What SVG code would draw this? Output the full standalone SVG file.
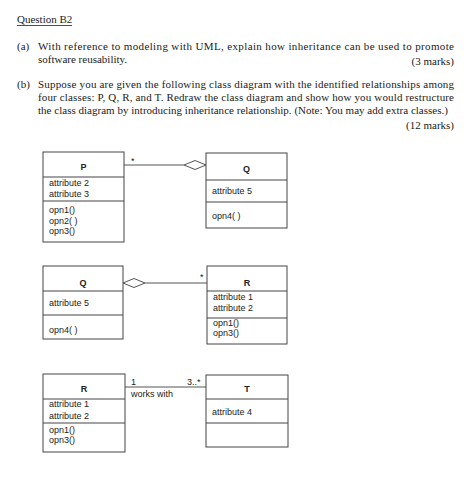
<svg xmlns="http://www.w3.org/2000/svg" width="474" height="484" viewBox="0 0 474 484">
<style>
.q{font-family:"Liberation Serif","Times New Roman",serif;font-size:11px;fill:#222}
.box{fill:#fff;stroke:#444;stroke-width:1}
.div{stroke:#444;stroke-width:1}
.t{font-family:"Liberation Sans",Arial,sans-serif;font-size:9px;fill:#222}
.n{font-family:"Liberation Sans",Arial,sans-serif;font-size:9px;font-weight:bold;fill:#222;text-anchor:middle}
.ln{stroke:#555;stroke-width:1;fill:none}
.dia{stroke:#555;stroke-width:1;fill:#fff}
</style>
<rect width="474" height="484" fill="#fff"/>
<g id="question">
<text class="q" x="17" y="23">Question B2</text>
<line x1="17" y1="25.5" x2="72" y2="25.5" stroke="#222" stroke-width="0.8"/>
<text class="q" x="17" y="50">(a)</text>
<text class="q" x="38" y="50" textLength="416" lengthAdjust="spacing">With reference to modeling with UML, explain how inheritance can be used to promote</text>
<text class="q" x="38" y="63">software reusability.</text>
<text class="q" x="454" y="65" text-anchor="end">(3 marks)</text>
<text class="q" x="17" y="88">(b)</text>
<text class="q" x="38" y="88" textLength="416" lengthAdjust="spacing">Suppose you are given the following class diagram with the identified relationships among</text>
<text class="q" x="38" y="101" textLength="416" lengthAdjust="spacing">four classes: P, Q, R, and T. Redraw the class diagram and show how you would restructure</text>
<text class="q" x="38" y="114" textLength="410" lengthAdjust="spacing">the class diagram by introducing inheritance relationship. (Note: You may add extra classes.)</text>
<text class="q" x="454" y="129" text-anchor="end">(12 marks)</text>
</g>
<g id="connectors">
<line class="ln" x1="124" y1="165" x2="184" y2="165"/>
<polygon class="dia" points="184,165 195,160.5 206,165 195,169.5"/>
<text class="t" x="131" y="164" font-size="8">*</text>
<polygon class="dia" points="123,283 134,278.5 145,283 134,287.5"/>
<line class="ln" x1="145" y1="283" x2="207" y2="283"/>
<text class="t" x="200" y="280" font-size="8">*</text>
<line class="ln" x1="125" y1="387" x2="206" y2="387"/>
<text class="t" x="131" y="385">1</text>
<text class="t" x="131" y="397">works with</text>
<text class="t" x="187" y="385">3..*</text>
</g>
<g id="P">
<rect class="box" x="43" y="152" width="81" height="90"/>
<line class="div" x1="43" y1="177" x2="124" y2="177"/>
<line class="div" x1="43" y1="201" x2="124" y2="201"/>
<text class="n" x="83.5" y="170">P</text>
<text class="t" x="49" y="186">attribute 2</text>
<text class="t" x="49" y="197">attribute 3</text>
<text class="t" x="49" y="213">opn1()</text>
<text class="t" x="49" y="224">opn2( )</text>
<text class="t" x="49" y="234">opn3()</text>
</g>
<g id="Q1">
<rect class="box" x="206" y="153" width="81" height="75"/>
<line class="div" x1="206" y1="180" x2="287" y2="180"/>
<line class="div" x1="206" y1="202" x2="287" y2="202"/>
<text class="n" x="246.5" y="172">Q</text>
<text class="t" x="212" y="194">attribute 5</text>
<text class="t" x="212" y="219">opn4( )</text>
</g>
<g id="Q2">
<rect class="box" x="43" y="266" width="80" height="73"/>
<line class="div" x1="43" y1="291" x2="123" y2="291"/>
<line class="div" x1="43" y1="315" x2="123" y2="315"/>
<text class="n" x="83" y="286">Q</text>
<text class="t" x="49" y="306">attribute 5</text>
<text class="t" x="49" y="333">opn4( )</text>
</g>
<g id="R1">
<rect class="box" x="207" y="266" width="80" height="78"/>
<line class="div" x1="207" y1="291" x2="287" y2="291"/>
<line class="div" x1="207" y1="318" x2="287" y2="318"/>
<text class="n" x="247" y="286">R</text>
<text class="t" x="213" y="300">attribute 1</text>
<text class="t" x="213" y="311">attribute 2</text>
<text class="t" x="213" y="326">opn1()</text>
<text class="t" x="213" y="336">opn3()</text>
</g>
<g id="R2">
<rect class="box" x="43" y="374" width="82" height="78"/>
<line class="div" x1="43" y1="399" x2="125" y2="399"/>
<line class="div" x1="43" y1="423" x2="125" y2="423"/>
<text class="n" x="84" y="392">R</text>
<text class="t" x="49" y="407">attribute 1</text>
<text class="t" x="49" y="419">attribute 2</text>
<text class="t" x="49" y="433">opn1()</text>
<text class="t" x="49" y="443">opn3()</text>
</g>
<g id="T">
<rect class="box" x="206" y="375" width="82" height="72"/>
<line class="div" x1="206" y1="399" x2="288" y2="399"/>
<line class="div" x1="206" y1="423" x2="288" y2="423"/>
<text class="n" x="247" y="392">T</text>
<text class="t" x="212" y="415">attribute 4</text>
</g>
</svg>
